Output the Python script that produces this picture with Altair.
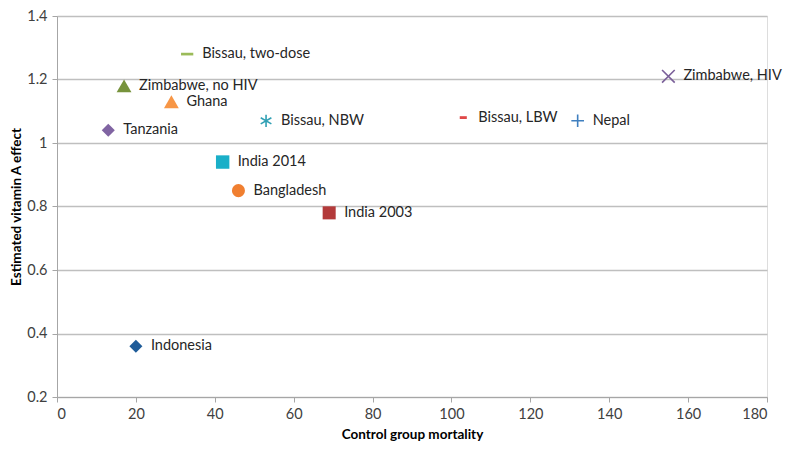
import altair as alt
import pandas as pd

names = ["Bissau, two-dose", "Zimbabwe, no HIV", "Ghana", "Tanzania", "Bissau, NBW",
         "India 2014", "Bangladesh", "India 2003", "Bissau, LBW", "Nepal",
         "Zimbabwe, HIV", "Indonesia"]
mortality = [33, 17, 29, 13, 53, 42, 46, 69, 103, 132, 155, 20]
effect = [1.28, 1.18, 1.13, 1.04, 1.07, 0.94, 0.85, 0.78, 1.08, 1.07, 1.21, 0.36]
colors = ["#9BBB59", "#77933C", "#F79646", "#8064A2", "#31A0B4",
          "#1AAFC8", "#F07F30", "#B33A3A", "#E04848", "#3F7FBF",
          "#7A5F99", "#1F5C99"]
shapes = ["M-1,-0.22H1V0.22H-1Z", "triangle-up", "triangle-up", "diamond",
          "M0,-1V1M-0.87,-0.5L0.87,0.5M-0.87,0.5L0.87,-0.5",
          "square", "circle", "square", "M-1,-0.4H1V0.4H-1Z",
          "M-1,0H1M0,-1V1", "M-1,-1L1,1M-1,1L1,-1", "diamond"]
sizes = [150, 220, 220, 170, 150, 180, 170, 170, 50, 160, 160, 170]
filled = [True, True, True, True, False, True, True, True, True, False, False, True]

df = pd.DataFrame({"name": names, "mortality": mortality, "effect": effect,
                   "color": colors, "shape": shapes, "size": sizes,
                   "filled": filled})

FONT = "Lato"

x = alt.X("mortality:Q", title="Control group mortality",
          scale=alt.Scale(domain=[0, 180], nice=False),
          axis=alt.Axis(values=list(range(0, 181, 20)), grid=False,
                        labelFontSize=14.5, labelColor="#404040", labelFont=FONT,
                        labelPadding=5, tickColor="#A6A6A6", domainColor="#A6A6A6",
                        tickSize=5, titleFont=FONT, titleFontSize=13.5,
                        titleFontWeight="bold", titleColor="#000000", titlePadding=7))
y = alt.Y("effect:Q", title="Estimated vitamin A effect",
          scale=alt.Scale(domain=[0.2, 1.4], nice=False),
          axis=alt.Axis(values=[0.2, 0.4, 0.6, 0.8, 1.0, 1.2, 1.4], format="~g",
                        gridColor="#BFBFBF", gridWidth=1.3,
                        labelFontSize=14.5, labelColor="#404040", labelFont=FONT,
                        labelPadding=5, tickColor="#A6A6A6", domainColor="#A6A6A6",
                        tickSize=5, titleFont=FONT, titleFontSize=13.5,
                        titleFontWeight="bold", titleColor="#000000", titlePadding=3))

base = alt.Chart(df)

filled_pts = base.transform_filter("datum.filled").mark_point(
    filled=True, opacity=1, strokeWidth=0).encode(
    x=x, y=y,
    shape=alt.Shape("shape:N", scale=None),
    color=alt.Color("color:N", scale=None),
    size=alt.Size("size:Q", scale=None))

stroked_pts = base.transform_filter("!datum.filled").mark_point(
    filled=False, opacity=1, strokeWidth=1.6).encode(
    x=x, y=y,
    shape=alt.Shape("shape:N", scale=None),
    color=alt.Color("color:N", scale=None),
    size=alt.Size("size:Q", scale=None))

labels = base.mark_text(align="left", baseline="middle", dx=15, font=FONT,
                        fontSize=14.5, color="#262626").encode(
    x=x, y=y, text="name:N")

chart = alt.layer(filled_pts, stroked_pts, labels).properties(
    width=710, height=381,
    autosize=alt.AutoSizeParams(type="none"),
    padding={"left": 49, "top": 8, "right": 17, "bottom": 45},
).configure_view(stroke=None).configure(background="white")

chart.save("out.html", embed_options={"renderer": "svg", "actions": False})
